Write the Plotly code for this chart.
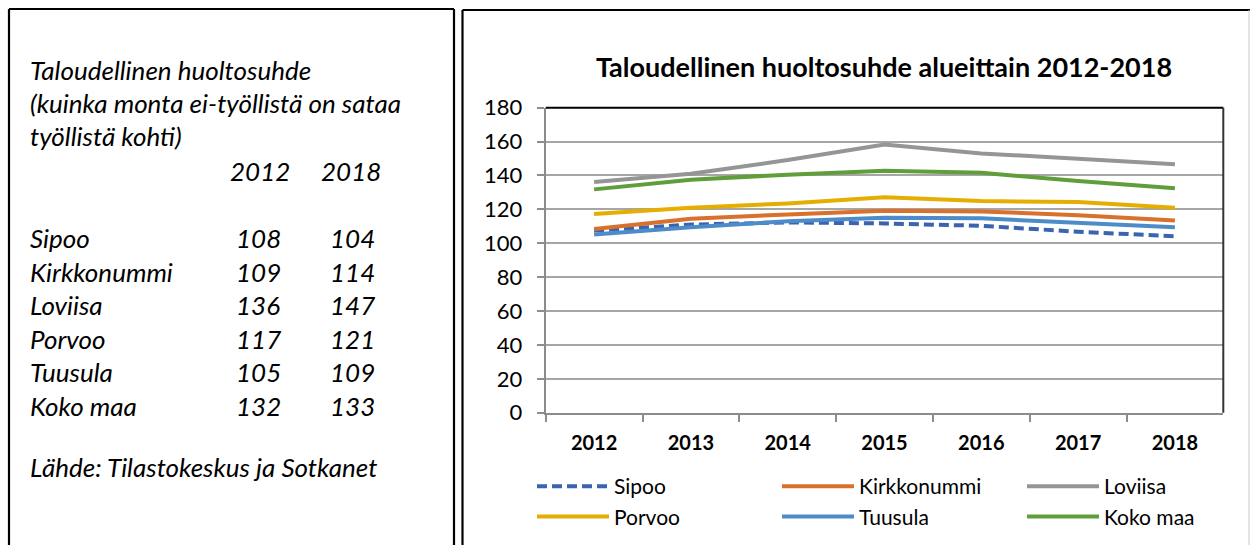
import plotly.graph_objects as go

W, H = 1250, 545

# ---- chart data ----
years = ["2012", "2013", "2014", "2015", "2016", "2017", "2018"]
sipoo = [107.5, 111, 112.3, 111.7, 110.3, 106.8, 104.1]
kirkkonummi = [108.4, 114.5, 117, 119.2, 118.8, 116.6, 113.5]
loviisa = [136.1, 141, 149.1, 158.3, 153, 149.7, 146.7]
porvoo = [117.2, 121, 123.5, 127.1, 124.9, 124.3, 121]
tuusula = [105.2, 109.5, 113, 115.1, 114.7, 112.1, 109.4]
koko_maa = [131.8, 137.5, 140.5, 142.8, 141.6, 136.7, 132.4]

series_names = ["Sipoo", "Kirkkonummi", "Loviisa", "Porvoo", "Tuusula", "Koko maa"]
series_values = [sipoo, kirkkonummi, loviisa, porvoo, tuusula, koko_maa]
series_colors = ["#3A63B0", "#D9702C", "#959595", "#E5AE00", "#4D8CC8", "#5F9E3A"]
series_dash = ["10px,5px", "solid", "solid", "solid", "solid", "solid"]
# legend column for each series (3 columns x 2 rows, as in the reference)
series_legend = ["legend", "legend2", "legend3", "legend", "legend2", "legend3"]

y_ticks = [0, 20, 40, 60, 80, 100, 120, 140, 160, 180]

# ---- side table data ----
table_regions = ["Sipoo", "Kirkkonummi", "Loviisa", "Porvoo", "Tuusula", "Koko maa"]
table_2012 = [108, 109, 136, 117, 105, 132]
table_2018 = [104, 114, 147, 121, 109, 133]
table_years = ["2012", "2018"]

FONT = "Lato"


def px(x):
    return x / W


def py(y):
    return 1 - y / H


fig = go.Figure()
for name, vals, col, dash, lg in zip(series_names, series_values, series_colors,
                                     series_dash, series_legend):
    fig.add_trace(go.Scatter(
        x=years, y=vals, name=name, mode="lines",
        line=dict(color=col, width=4, dash=dash),
        legend=lg, hoverinfo="x+y+name",
    ))

plot_l, plot_r, plot_t, plot_b = 545.7, 1223.3, 107.7, 412.7

legend_font = dict(family=FONT, size=21, color="black")


def legend_at(xpix):
    return dict(orientation="v", x=px(xpix), xanchor="left", y=py(466),
                yanchor="top", font=legend_font, itemwidth=72,
                bgcolor="rgba(0,0,0,0)", borderwidth=0, traceorder="normal")


fig.update_layout(
    width=W, height=H,
    margin=dict(l=0, r=0, t=0, b=0, autoexpand=False),
    paper_bgcolor="white", plot_bgcolor="white",
    font=dict(family=FONT, color="black", size=20),
    title=dict(text="<b>Taloudellinen huoltosuhde alueittain 2012-2018</b>",
               x=px(884), xanchor="center", y=py(68), yanchor="middle",
               font=dict(family=FONT, size=27, color="black")),
    xaxis=dict(
        domain=[px(plot_l), px(plot_r)],
        type="category", range=[-0.5, 6.5],
        tickson="boundaries", ticks="outside", ticklen=7, tickwidth=1.5,
        tickcolor="#8c8c8c",
        showline=True, linecolor="#8c8c8c", linewidth=2,
        showgrid=False, zeroline=False,
        tickfont=dict(family=FONT, size=20, color="black", weight="bold"),
        ticklabelstandoff=11,
        fixedrange=True,
    ),
    yaxis=dict(
        domain=[py(plot_b), py(plot_t)],
        range=[0, 180], tickvals=y_ticks,
        ticks="outside", ticklen=7, tickwidth=1.5, tickcolor="#8c8c8c",
        showline=True, linecolor="#8c8c8c", linewidth=2,
        showgrid=True, gridcolor="#a6a6a6", gridwidth=1.5,
        zeroline=False,
        tickfont=dict(family=FONT, size=22, color="black"),
        ticklabelstandoff=10,
        fixedrange=True,
    ),
    legend=legend_at(532),
    legend2=legend_at(777),
    legend3=legend_at(1022),
    showlegend=True,
)

shapes = []
# plot area top and right border (black)
shapes.append(dict(type="line", xref="paper", yref="paper",
                   x0=px(plot_l), x1=px(plot_r), y0=py(plot_t), y1=py(plot_t),
                   line=dict(color="black", width=2)))
shapes.append(dict(type="line", xref="paper", yref="paper",
                   x0=px(plot_r), x1=px(plot_r), y0=py(plot_t), y1=py(plot_b),
                   line=dict(color="#333333", width=2)))
# left panel box
for (x0, y0, x1, y1) in [(9, 9, 454, 9), (9, 9, 9, 545), (454, 9, 454, 545)]:
    shapes.append(dict(type="line", xref="paper", yref="paper",
                       x0=px(x0), x1=px(x1), y0=py(y0), y1=py(y1),
                       line=dict(color="black", width=2.2)))
# chart panel box
for (x0, y0, x1, y1) in [(462.5, 10, 1250, 10), (462.5, 10, 462.5, 545)]:
    shapes.append(dict(type="line", xref="paper", yref="paper",
                       x0=px(x0), x1=px(x1), y0=py(y0), y1=py(y1),
                       line=dict(color="black", width=2.2)))
shapes.append(dict(type="line", xref="paper", yref="paper",
                   x0=px(1249), x1=px(1249), y0=py(10), y1=py(545),
                   line=dict(color="#c8c8c8", width=1)))
fig.update_layout(shapes=shapes)

ann = []
tfont = dict(family=FONT, size=26, color="black", style="italic")


def add_text(text, x, y, anchor="left"):
    ann.append(dict(text=text, xref="paper", yref="paper", x=px(x), y=py(y),
                    xanchor=anchor, yanchor="middle", showarrow=False,
                    font=tfont))


add_text("Taloudellinen huoltosuhde", 28, 70)
add_text("(kuinka monta ei-työllistä on sataa", 28, 103)
add_text("työllistä kohti)", 28, 136)
add_text(table_years[0], 260, 171, "center")
add_text(table_years[1], 351, 171, "center")
row_y = [238, 271.5, 305, 338.5, 372, 405.5]
for name, a, b, yy in zip(table_regions, table_2012, table_2018, row_y):
    add_text(name, 28, yy)
    add_text(str(a), 258, yy, "center")
    add_text(str(b), 352, yy, "center")
add_text("Lähde: Tilastokeskus ja Sotkanet", 28, 467)
fig.update_layout(annotations=ann)

fig.write_html(
    "out.html",
    config={"displayModeBar": False},
    post_script="document.body.style.margin='0';document.body.style.overflow='hidden';",
)
